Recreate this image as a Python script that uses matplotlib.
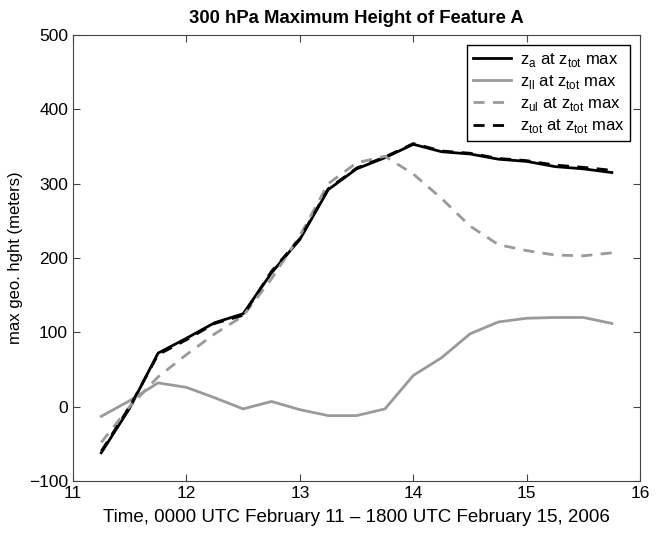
import matplotlib
matplotlib.use("Agg")
import matplotlib.pyplot as plt
import numpy as np

# times (days of February 2006) and heights (m)
time = [11.25, 11.5, 11.75, 12.0, 12.25, 12.5, 12.75, 13.0, 13.25, 13.5,
        13.75, 14.0, 14.25, 14.5, 14.75, 15.0, 15.25, 15.5, 15.75]
z_a = [-62, -2, 72, 92, 113, 125, 180, 225, 292, 320,
       335, 353, 343, 340, 333, 330, 323, 320, 315]
z_ll = [-13, 8, 32, 26, 12, -3, 7, -4, -12, -12,
        -3, 42, 66, 98, 114, 119, 120, 120, 112]
z_ul = [-48, 0, 40, 70, 98, 122, 172, 230, 300, 328,
        337, 313, 280, 243, 218, 210, 204, 203, 207]
z_tot = [-60, 0, 70, 90, 112, 123, 182, 226, 293, 321,
         336, 354, 344, 341, 334, 331, 325, 322, 318]

plt.rcParams['font.family'] = ['Liberation Sans', 'DejaVu Sans']
plt.rcParams['mathtext.fontset'] = 'custom'
plt.rcParams['mathtext.rm'] = 'Liberation Sans'

fig = plt.figure(figsize=(6.69, 5.36), dpi=100)
ax = fig.add_axes([0.109, 0.1026, 0.848, 0.832])

gray = '#9a9a9a'
ax.plot(time, z_a, color='black', lw=2, label=r'z$_\mathregular{a}$ at z$_\mathregular{tot}$ max')
ax.plot(time, z_ll, color=gray, lw=2, label=r'z$_\mathregular{ll}$ at z$_\mathregular{tot}$ max')
ax.plot(time, z_ul, color=gray, lw=2, ls=(0, (4, 3)), label=r'z$_\mathregular{ul}$ at z$_\mathregular{tot}$ max')
ax.plot(time, z_tot, color='black', lw=2, ls=(0, (4, 3)), label=r'z$_\mathregular{tot}$ at z$_\mathregular{tot}$ max')

ax.set_xlim(11, 16)
ax.set_ylim(-100, 500)
ax.set_xticks(np.arange(11, 17, 1))
ax.set_yticks(np.arange(-100, 600, 100))
ax.set_yticklabels(['\u2212100', '0', '100', '200', '300', '400', '500'])
ax.tick_params(direction='in', labelsize=12.5, length=5, top=True, right=True, color='#444444')
for s in ax.spines.values():
    s.set_color('#444444')

ax.set_title('300 hPa Maximum Height of Feature A', fontsize=13.3, fontweight='bold', pad=9)
ax.set_xlabel('Time, 0000 UTC February 11 \u2013 1800 UTC February 15, 2006', fontsize=13.5, labelpad=6)
ax.set_ylabel('max geo. hght (meters)', fontsize=12)

leg = ax.legend(loc='upper right', fontsize=12, fancybox=False, framealpha=1,
                edgecolor='black', handlelength=2.3, labelspacing=0.25,
                handletextpad=0.5, borderaxespad=0.6, borderpad=0.35)

plt.savefig('out.png')
